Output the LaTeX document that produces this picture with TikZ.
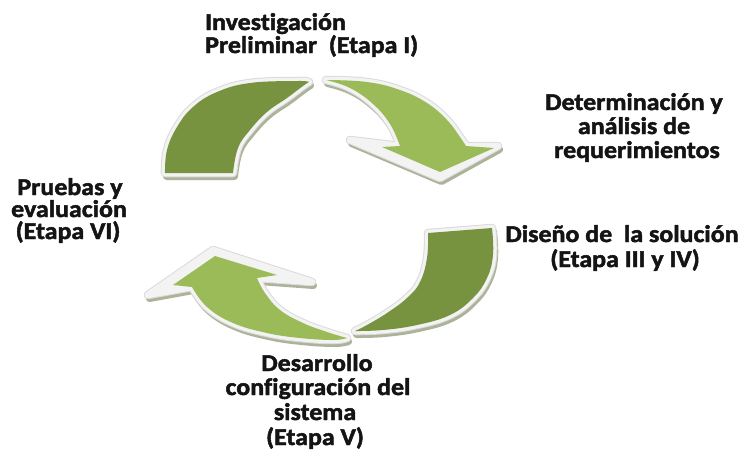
\documentclass[tikz,border=0pt]{standalone}
\usepackage{fontspec}
\setmainfont{Carlito}[Ligatures=NoCommon, BoldFeatures={FakeBold=2, FakeStretch=1.08}]
\definecolor{darkolive}{RGB}{120,147,63}
\definecolor{lightolive}{RGB}{155,187,89}
\definecolor{bevel}{RGB}{243,243,243}
\definecolor{bevelrim}{RGB}{218,218,218}
\definecolor{dropcol}{RGB}{150,160,128}
% Outline of each arrow segment (image-style coordinates, y grows downwards)
\newcommand\pathTopTail{plot[smooth, tension=0.7] coordinates {(165,173) (167,150) (177,127) (193,107) (217,92) (250,83) (297,81) (309,82)} -- plot[smooth, tension=0.7] coordinates {(309,82) (303,86) (287,98) (267,112) (250,130) (238,148) (233,173)} -- cycle}
\newcommand\pathTopHead{plot[smooth, tension=0.7] coordinates {(326,80) (367,82) (400,90) (427,103) (447,120) (460,137) (466,146)} -- (494,148) -- (440,172) -- (382,147) -- plot[smooth, tension=0.7] coordinates {(400,146) (390,124) (373,104) (350,88) (326,80)} -- cycle}
\newcommand\pathTopHeadRim{plot[smooth, tension=0.7] coordinates {(326,80) (367,82) (400,90) (427,103) (447,120) (460,137) (466,146)} -- (498,146) -- (440,178) -- (350,140) -- plot[smooth, tension=0.7] coordinates {(400,146) (390,124) (373,104) (350,88) (326,80)} -- cycle}
\newcommand\pathLowTail{plot[smooth, tension=0.7] coordinates {(428,233) (427,258) (420,282) (407,298) (387,313) (367,325) (355,331)} -- plot[smooth, tension=0.7] coordinates {(355,331) (383,330) (417,325) (450,315) (473,298) (487,278) (493,255) (492,228)} -- cycle}
\newcommand\pathLowHead{plot[smooth, tension=0.7] coordinates {(347,338) (327,332) (303,323) (280,310) (265,293) (257,278)} -- (277,275) -- (215,256) -- (173,285) -- plot[smooth, tension=0.7] coordinates {(192,287) (207,307) (233,323) (267,333) (300,338) (333,340) (347,338)} -- cycle}
\newcommand\pathLowHeadRim{plot[smooth, tension=0.7] coordinates {(347,338) (327,332) (303,323) (280,310) (265,293) (257,278)} -- (312,282) -- (213,250) -- (148,295) -- plot[smooth, tension=0.7] coordinates {(192,287) (207,307) (233,323) (267,333) (300,338) (333,340) (347,338)} -- cycle}
\begin{document}
\begin{tikzpicture}[x=1pt,y=-1pt]
\tikzset{
  lbl/.style={font=\bfseries\fontsize{24}{24}\selectfont, inner sep=0pt, text=black!92},
  dropcast/.style={fill=dropcol, draw=dropcol, line width=7pt, line join=round, opacity=0.8},
  rim/.style={fill=bevelrim, draw=bevelrim, line width=8.5pt, line join=round},
  bevelface/.style={fill=bevel, draw=bevel, line width=6.5pt, line join=round},
}
\useasboundingbox (0,0) rectangle (743,450);

% upper arrow: dark tail, then light head with its tip
\begin{scope}[shift={(1.5,3.5)}]
  \path[dropcast] \pathTopTail;
\end{scope}
\path[rim] \pathTopTail;
\path[bevelface] \pathTopTail;
\fill[darkolive] \pathTopTail;

\begin{scope}[shift={(1.5,3.5)}]
  \path[dropcast] \pathTopHeadRim;
\end{scope}
\path[rim] \pathTopHeadRim;
\path[bevelface] \pathTopHeadRim;
\fill[lightolive] \pathTopHead;

% lower arrow: dark tail on the right, light head pointing up-left
\begin{scope}[shift={(1.5,3.5)}]
  \path[dropcast] \pathLowTail;
\end{scope}
\path[rim] \pathLowTail;
\path[bevelface] \pathLowTail;
\fill[darkolive] \pathLowTail;

\begin{scope}[shift={(1.5,3.5)}]
  \path[dropcast] \pathLowHeadRim;
\end{scope}
\path[rim] \pathLowHeadRim;
\path[bevelface] \pathLowHeadRim;
\fill[lightolive] \pathLowHead;

% stage labels
\node[lbl, anchor=base west] (inv1) at (205,30) {Investigación};
\node[lbl, anchor=base west] (inv2) at (205,53) {Preliminar~ (Etapa I)};

\node[lbl, anchor=base] (det1) at (634,110) {Determinación y};
\node[lbl, anchor=base] (det2) at (634,134) {análisis de};
\node[lbl, anchor=base] (det3) at (637,158) {requerimientos};

\node[lbl, anchor=base] (pru1) at (70,195) {Pruebas y};
\node[lbl, anchor=base] (pru2) at (69,217) {evaluación};
\node[lbl, anchor=base] (pru3) at (68,239) {(Etapa VI)};

\node[lbl, anchor=base] (dis1) at (622,242) {Diseño de~ la solución};
\node[lbl, anchor=base] (dis2) at (625,267) {(Etapa III y IV)};

\node[lbl, anchor=base] (des1) at (317,371) {Desarrollo};
\node[lbl, anchor=base] (des2) at (318,395) {configuración del};
\node[lbl, anchor=base] (des3) at (315,420) {sistema};
\node[lbl, anchor=base] (des4) at (315,445) {(Etapa V)};
\end{tikzpicture}
\end{document}
